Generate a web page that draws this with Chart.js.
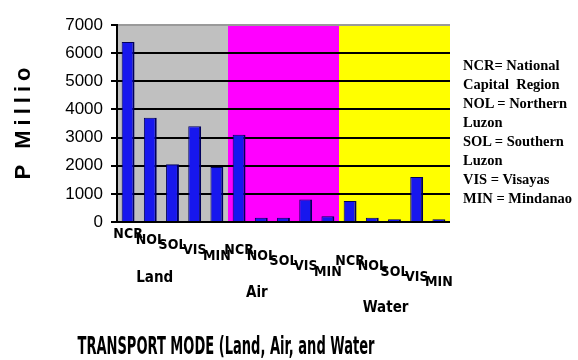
<!DOCTYPE html>
<html>
<head>
<meta charset="utf-8">
<script src="https://cdn.jsdelivr.net/npm/chart.js@4"></script>
<style>
  html, body { margin: 0; padding: 0; background: #fff; }
  #wrap { position: relative; width: 578px; height: 360px; }
  #legendText {
    position: absolute; left: 463px; top: 56px;
    font: bold 14.5px "Liberation Serif", "Times New Roman", serif;
    line-height: 19px; color: #000; white-space: nowrap;
  }
</style>
</head>
<body>
<div id="wrap">
  <canvas id="myChart" width="578" height="360"></canvas>
  <div id="legendText">NCR= National<br>Capital&nbsp; Region<br>NOL = Northern<br>Luzon<br>SOL = Southern<br>Luzon<br>VIS = Visayas<br>MIN = Mindanao</div>
</div>
<script>
const regions = ["NCR", "NOL", "SOL", "VIS", "MIN"];
const modes = ["Land", "Air", "Water"];
const landValues = [6400, 3700, 2050, 3400, 1950];
const airValues = [3100, 150, 150, 800, 200];
const waterValues = [750, 150, 100, 1600, 100];
const yMax = 7000;
const yStep = 1000;
const modeColors = ["#c0c0c0", "#ff00ff", "#ffff00"];

const labels = modes.flatMap(() => regions);
const values = [...landValues, ...airValues, ...waterValues];

const narrow = '"DejaVu Sans Condensed", "Liberation Sans Narrow", "Liberation Sans", Arial, sans-serif';

// coloured walls behind each transport mode + titles
const wallsPlugin = {
  id: "walls",
  beforeDraw(chart) {
    const { ctx, chartArea, scales } = chart;
    const x = scales.x;
    modes.forEach((m, g) => {
      const left = g === 0 ? chartArea.left : x.getPixelForValue(g * 5 - 0.5);
      const right = g === modes.length - 1 ? chartArea.right : x.getPixelForValue(g * 5 + 4.5);
      ctx.fillStyle = modeColors[g];
      ctx.fillRect(left, chartArea.top, right - left, chartArea.bottom - chartArea.top);
    });
  },
  afterDraw(chart) {
    const { ctx, scales } = chart;
    const x = scales.x;
    ctx.save();
    ctx.fillStyle = "#000";
    ctx.textAlign = "center";
    ctx.textBaseline = "middle";
    // mode labels, stepping down like the perspective in the original
    ctx.font = "bold 15px " + narrow;
    const modePos = [1.2, 5.8, 11.6];
    const modeY = [278, 293, 308];
    modes.forEach((m, g) => {
      ctx.fillText(m, x.getPixelForValue(modePos[g]), modeY[g]);
    });
    // y title
    ctx.save();
    ctx.translate(24, 121);
    ctx.rotate(-Math.PI / 2);
    ctx.font = "bold 22px 'Liberation Sans', Arial, sans-serif";
    ctx.letterSpacing = "5px";
    ctx.fillText("P Millio", 0, 0);
    ctx.restore();
    // x title
    const title = "TRANSPORT MODE (Land, Air, and Water";
    ctx.save();
    ctx.font = "bold 24px " + narrow;
    const w = ctx.measureText(title).width;
    ctx.translate(226, 348);
    ctx.scale(297 / w, 1);
    ctx.fillText(title, 0, 0);
    ctx.restore();
    ctx.restore();
  },
};

const ctx = document.getElementById("myChart").getContext("2d");
const myChart = new Chart(ctx, {
  type: "bar",
  data: {
    labels: labels,
    datasets: [
      {
        data: values,
        backgroundColor: "#1717ee",
        borderColor: "#00005c",
        borderWidth: { top: 1, left: 1, right: 2, bottom: 0 },
        barPercentage: 0.58,
        categoryPercentage: 1,
      },
    ],
  },
  options: {
    responsive: false,
    animation: false,
    layout: { padding: { top: 25, right: 128, left: 0, bottom: 0 } },
    plugins: {
      legend: { display: false },
      tooltip: { enabled: false },
    },
    scales: {
      x: {
        afterFit: (scale) => { scale.height = 138; },
        grid: { display: false, drawTicks: false },
        border: { display: false },
        ticks: {
          autoSkip: false,
          maxRotation: 0,
          minRotation: 0,
          padding: 10,
          color: "#000",
          font: { family: narrow, size: 14, weight: "bold", lineHeight: 0.38 },
          callback: function (value, index) {
            const g = Math.floor(index / 5);
            const j = index % 5;
            const k = [0, 3, 5][g] + j;
            return [...Array(k).fill(""), this.getLabelForValue(value)];
          },
        },
      },
      y: {
        min: 0,
        max: yMax,
        afterFit: (scale) => { scale.width = 117; },
        grid: {
          color: (c) => (c.tick && c.tick.value === yMax ? "#9a9a9a" : "#000"),
          lineWidth: 2,
          tickLength: 6,
          tickColor: "#000",
        },
        border: { display: true, color: "#000", width: 2 },
        ticks: {
          stepSize: yStep,
          padding: 8,
          color: "#000",
          font: { family: "'Liberation Sans', Arial, sans-serif", size: 17 },
          callback: (v) => String(v),
        },
      },
    },
  },
  plugins: [wallsPlugin],
});
</script>
</body>
</html>
